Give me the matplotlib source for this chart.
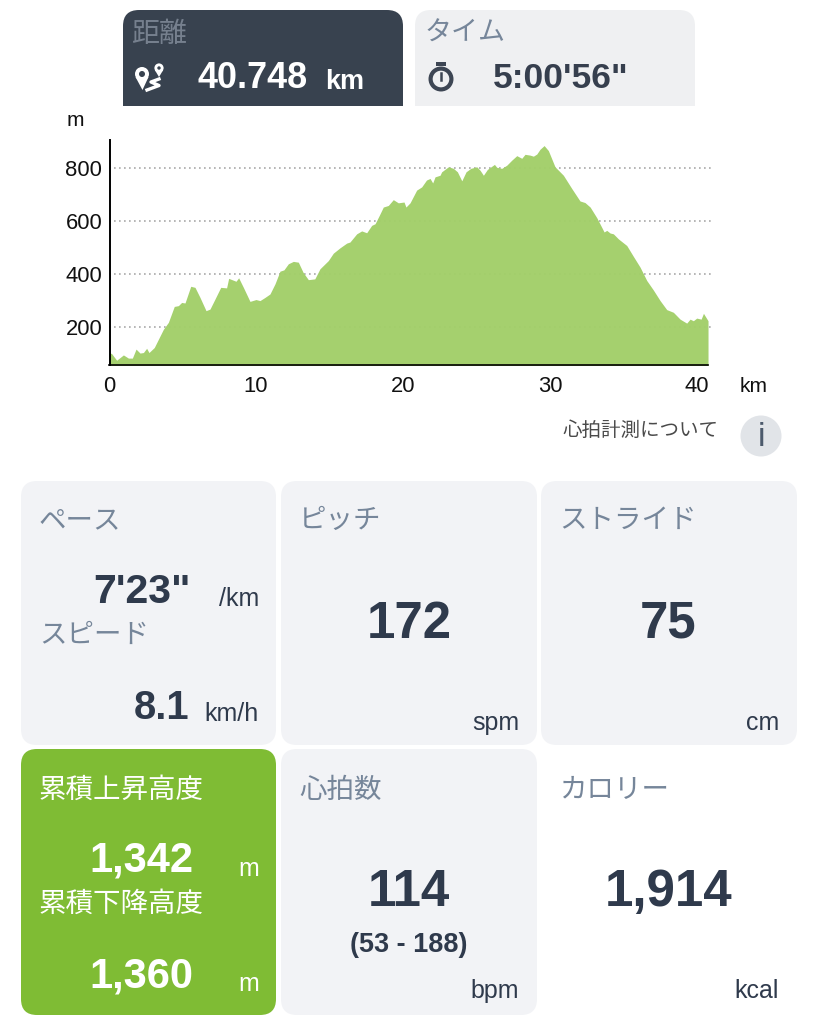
import matplotlib
matplotlib.use("Agg")
from matplotlib import pyplot as plt
from matplotlib.patches import FancyBboxPatch, Circle, Rectangle, Polygon

plt.rcParams['font.family'] = ['Liberation Sans', 'Noto Sans CJK JP', 'DejaVu Sans']

# elevation profile
dist_km = [0, 0.18, 0.52, 0.98, 1.32, 1.59, 1.84, 2.11, 2.34, 2.56, 2.72, 3.08, 3.7, 4.04, 4.44, 4.72,
           4.94, 5.17, 5.56, 5.85, 6.19, 6.6, 6.87, 7.21, 7.6, 8.0, 8.14, 8.64, 8.82, 9.14, 9.59, 10.0,
           10.27, 10.61, 10.95, 11.29, 11.63, 11.9, 12.2, 12.54, 12.88, 13.2, 13.56, 14.0, 14.35, 14.92,
           15.26, 15.71, 16.17, 16.39, 16.85, 17.19, 17.53, 17.87, 18.1, 18.39, 18.66, 19.0, 19.34, 19.68,
           20.07, 20.2, 20.48, 20.93, 21.27, 21.6, 21.84, 22.02, 22.18, 22.52, 22.63, 23.09, 23.43, 23.7,
           24.0, 24.29, 24.61, 25.02, 25.24, 25.47, 25.74, 26.22, 26.38, 26.72, 27.06, 27.4, 27.74, 28.08,
           28.3, 28.64, 28.87, 29.1, 29.32, 29.6, 29.89, 30.34, 30.91, 31.48, 32.04, 32.38, 32.73, 33.18,
           33.68, 33.86, 34.09, 34.31, 34.65, 35.22, 35.67, 36.13, 36.58, 37.03, 37.49, 37.94, 38.39,
           38.85, 39.3, 39.53, 39.75, 39.98, 40.28, 40.44, 40.75]
elev_m = [104, 100, 75, 95, 83, 83, 117, 102, 104, 120, 104, 123, 192, 218, 278, 281,
          293, 291, 354, 350, 312, 262, 268, 306, 350, 348, 384, 373, 386, 350, 297, 304,
          300, 312, 325, 363, 411, 416, 439, 448, 445, 407, 379, 382, 420, 451,
          479, 499, 517, 521, 552, 563, 556, 584, 590, 622, 653, 659, 681, 669,
          672, 653, 669, 717, 729, 755, 761, 744, 767, 773, 786, 805, 799, 786,
          752, 786, 799, 805, 792, 773, 795, 814, 803, 799, 811, 830, 847, 837,
          852, 849, 845, 853, 871, 885, 866, 805, 773, 723, 676, 670, 653, 613,
          559, 565, 555, 552, 533, 508, 467, 426, 376, 340, 300, 266, 256,
          230, 215, 230, 224, 234, 230, 252, 224]

x_ticks = [0, 10, 20, 30, 40]
y_ticks = [200, 400, 600, 800]

W, H = 819, 1024
DARK = '#2f3a4c'
GREY = '#76869a'
CARD = '#f2f3f6'
TAB = '#38424f'

fig = plt.figure(figsize=(W / 100, H / 100), dpi=100, facecolor='white')

# overlay in pixel coordinates for the cards
bg = fig.add_axes([0, 0, 1, 1])
bg.set_xlim(0, W)
bg.set_ylim(H, 0)
bg.axis('off')


def px(size):
    return size * 0.72


def card(x0, y0, x1, y1, color, r=16):
    p = FancyBboxPatch((x0 + r, y0 + r), x1 - x0 - 2 * r, y1 - y0 - 2 * r,
                       boxstyle="round,pad=%d,rounding_size=%d" % (r, r),
                       fc=color, ec='none')
    bg.add_patch(p)


def label(x, y, s, size, color=DARK, weight='normal', ha='left'):
    bg.text(x, y + 3, s, fontsize=px(size), color=color, fontweight=weight, ha=ha, va='center')


# top tabs
card(123, 10, 403, 130, TAB)
card(415, 10, 695, 130, '#eff0f2')
bg.add_patch(Rectangle((110, 106), 600, 30, fc='white', ec='none'))
label(131, 32, '距離', 28, '#76808e')
label(198, 75, '40.748', 36, 'white', 'bold')
label(325, 79, 'km', 27, 'white', 'bold')
label(425, 31, 'タイム', 27, GREY)
label(493, 75, "5:00'56\"", 35.5, '#363f4e', 'bold')

# distance icon
bg.add_patch(Circle((142, 74), 7, fc='white', ec='none'))
bg.add_patch(Polygon([[135.5, 77], [148.5, 77], [142.5, 90]], fc='white', ec='none'))
bg.add_patch(Circle((142, 74), 3, fc=TAB, ec='none'))
bg.add_patch(Circle((159, 68), 4.6, fc='white', ec='none'))
bg.add_patch(Polygon([[154.8, 70], [163.2, 70], [159, 77]], fc='white', ec='none'))
bg.add_patch(Circle((159, 68), 1.7, fc=TAB, ec='none'))
bg.plot([159, 151, 159, 147], [79, 82, 85.5, 90], color='white', lw=2.4)

# stopwatch icon
bg.add_patch(Circle((441, 79), 10.4, fc='none', ec='#3d4654', lw=3))
bg.add_patch(Rectangle((436, 62), 10, 4, fc='#3d4654', ec='none'))
bg.plot([441, 441], [73, 80], color='#3d4654', lw=1.8)

# stat cards
card(21, 481, 276, 745, CARD)
card(281, 481, 537, 745, CARD)
card(541, 481, 797, 745, CARD)
card(21, 749, 276, 1015, '#7fbc34')
card(281, 749, 537, 1015, CARD)

label(39, 518, 'ペース', 27.5, GREY)
label(142, 589, "7'23\"", 41, DARK, 'bold', 'center')
label(259, 596, '/km', 25, DARK, ha='right')
label(39, 633, 'スピード', 27.5, GREY)
label(189, 705, '8.1', 40, DARK, 'bold', 'right')
label(259, 711, 'km/h', 25, DARK, ha='right')

label(299, 518, 'ピッチ', 27.5, GREY)
label(409, 621, '172', 51, DARK, 'bold', 'center')
label(519, 720, 'spm', 25, DARK, ha='right')

label(559, 518, 'ストライド', 27.5, GREY)
label(668, 621, '75', 51, DARK, 'bold', 'center')
label(779, 720, 'cm', 25, DARK, ha='right')

label(39, 788, '累積上昇高度', 27.5, 'white')
label(141, 858, '1,342', 41.5, 'white', 'bold', 'center')
label(259, 866, 'm', 25, 'white', ha='right')
label(39, 902, '累積下降高度', 27.5, 'white')
label(141, 973, '1,360', 41.5, 'white', 'bold', 'center')
label(259, 981, 'm', 25, 'white', ha='right')

label(299, 788, '心拍数', 27.5, GREY)
label(409, 889, '114', 51, DARK, 'bold', 'center')
label(409, 942, '(53 - 188)', 27, DARK, 'bold', 'center')
label(519, 988, 'bpm', 25, DARK, ha='right')

label(559, 788, 'カロリー', 27.5, GREY)
label(669, 889, '1,914', 51, DARK, 'bold', 'center')
label(779, 988, 'kcal', 25, DARK, ha='right')

# heart rate note
label(718, 428, '心拍計測について', 19.5, '#4a4a4a', ha='right')
bg.add_patch(Circle((761, 436), 20.5, fc='#e1e4e8', ec='none'))
label(761, 434, 'i', 34, '#4c5a6c', ha='center')

# elevation chart
ax = fig.add_axes([109 / W, 1 - 365 / H, (711 - 109) / W, (365 - 140) / H])
ax.set_xlim(0, (711 - 109) / 14.7)
ax.set_ylim(57, 57 + (365 - 140) / 0.265)
ax.patch.set_alpha(0)
ax.fill_between(dist_km, elev_m, 0, color='#a2cf69', lw=0, alpha=0.97, zorder=3)
for v in y_ticks:
    ax.axhline(v, color='#a9a9a9', lw=1.2, ls=(0, (1, 2)), zorder=2)
for s in ['top', 'right']:
    ax.spines[s].set_visible(False)
ax.spines['left'].set_linewidth(1.4)
ax.spines['left'].set_position(('data', 0.1))
ax.spines['bottom'].set_linewidth(1.2)
ax.spines['bottom'].set_bounds(0, 40.75)
ax.spines['left'].set_zorder(5)
ax.spines['bottom'].set_zorder(5)
ax.set_xticks(x_ticks)
ax.set_yticks(y_ticks)
ax.tick_params(length=0, labelsize=px(22), pad=8, labelcolor='#111111')
ax.tick_params(axis='y', pad=6)
bg.text(75, 121, 'm', fontsize=px(21), color='#111111', ha='center', va='center')
bg.text(754, 386, 'km', fontsize=px(21), color='#111111', ha='center', va='center')

fig.savefig('out.png', dpi=100)
